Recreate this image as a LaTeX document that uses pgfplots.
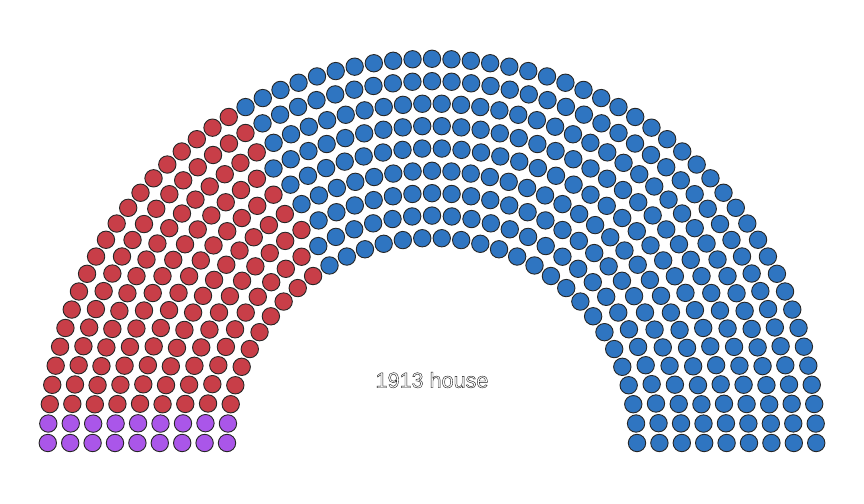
\documentclass[border=0pt]{standalone}
\usepackage{pgfplots}
\pgfplotsset{compat=1.18}
\usepackage{pgfplotstable}
\usepackage{fontspec}
\setmainfont{Liberation Sans}
\definecolor{progc}{RGB}{170,86,233}
\definecolor{repc}{RGB}{200,62,72}
\definecolor{demc}{RGB}{47,117,193}
% seats: k = position in its row, n = seats in that row, r = row radius
\pgfplotstableread[row sep=\\]{
k n r\\
0 34 205\\1 34 205\\0 37 227.4\\1 37 227.4\\0 41 249.8\\1 41 249.8\\0 45 272.2\\1 45 272.2\\0 48 294.6\\1 48 294.6\\0 52 317\\1 52 317\\0 56 339.4\\1 56 339.4\\0 59 361.8\\1 59 361.8\\0 63 384.2\\1 63 384.2\\
}\progtab
\pgfplotstableread[row sep=\\]{
k n r\\
2 34 205\\3 34 205\\4 34 205\\5 34 205\\6 34 205\\7 34 205\\8 34 205\\9 34 205\\10 34 205\\
2 37 227.4\\3 37 227.4\\4 37 227.4\\5 37 227.4\\6 37 227.4\\7 37 227.4\\8 37 227.4\\9 37 227.4\\10 37 227.4\\11 37 227.4\\
2 41 249.8\\3 41 249.8\\4 41 249.8\\5 41 249.8\\6 41 249.8\\7 41 249.8\\8 41 249.8\\9 41 249.8\\10 41 249.8\\11 41 249.8\\12 41 249.8\\13 41 249.8\\
2 45 272.2\\3 45 272.2\\4 45 272.2\\5 45 272.2\\6 45 272.2\\7 45 272.2\\8 45 272.2\\9 45 272.2\\10 45 272.2\\11 45 272.2\\12 45 272.2\\13 45 272.2\\14 45 272.2\\
2 48 294.6\\3 48 294.6\\4 48 294.6\\5 48 294.6\\6 48 294.6\\7 48 294.6\\8 48 294.6\\9 48 294.6\\10 48 294.6\\11 48 294.6\\12 48 294.6\\13 48 294.6\\14 48 294.6\\15 48 294.6\\
2 52 317\\3 52 317\\4 52 317\\5 52 317\\6 52 317\\7 52 317\\8 52 317\\9 52 317\\10 52 317\\11 52 317\\12 52 317\\13 52 317\\14 52 317\\15 52 317\\16 52 317\\
2 56 339.4\\3 56 339.4\\4 56 339.4\\5 56 339.4\\6 56 339.4\\7 56 339.4\\8 56 339.4\\9 56 339.4\\10 56 339.4\\11 56 339.4\\12 56 339.4\\13 56 339.4\\14 56 339.4\\15 56 339.4\\16 56 339.4\\17 56 339.4\\18 56 339.4\\
2 59 361.8\\3 59 361.8\\4 59 361.8\\5 59 361.8\\6 59 361.8\\7 59 361.8\\8 59 361.8\\9 59 361.8\\10 59 361.8\\11 59 361.8\\12 59 361.8\\13 59 361.8\\14 59 361.8\\15 59 361.8\\16 59 361.8\\17 59 361.8\\18 59 361.8\\19 59 361.8\\
2 63 384.2\\3 63 384.2\\4 63 384.2\\5 63 384.2\\6 63 384.2\\7 63 384.2\\8 63 384.2\\9 63 384.2\\10 63 384.2\\11 63 384.2\\12 63 384.2\\13 63 384.2\\14 63 384.2\\15 63 384.2\\16 63 384.2\\17 63 384.2\\18 63 384.2\\19 63 384.2\\20 63 384.2\\
}\reptab
\pgfplotstableread[row sep=\\]{
k n r\\
11 34 205\\12 34 205\\13 34 205\\14 34 205\\15 34 205\\16 34 205\\17 34 205\\18 34 205\\19 34 205\\20 34 205\\21 34 205\\22 34 205\\23 34 205\\24 34 205\\25 34 205\\26 34 205\\27 34 205\\28 34 205\\29 34 205\\30 34 205\\31 34 205\\32 34 205\\33 34 205\\
12 37 227.4\\13 37 227.4\\14 37 227.4\\15 37 227.4\\16 37 227.4\\17 37 227.4\\18 37 227.4\\19 37 227.4\\20 37 227.4\\21 37 227.4\\22 37 227.4\\23 37 227.4\\24 37 227.4\\25 37 227.4\\26 37 227.4\\27 37 227.4\\28 37 227.4\\29 37 227.4\\30 37 227.4\\31 37 227.4\\32 37 227.4\\33 37 227.4\\34 37 227.4\\35 37 227.4\\36 37 227.4\\
14 41 249.8\\15 41 249.8\\16 41 249.8\\17 41 249.8\\18 41 249.8\\19 41 249.8\\20 41 249.8\\21 41 249.8\\22 41 249.8\\23 41 249.8\\24 41 249.8\\25 41 249.8\\26 41 249.8\\27 41 249.8\\28 41 249.8\\29 41 249.8\\30 41 249.8\\31 41 249.8\\32 41 249.8\\33 41 249.8\\34 41 249.8\\35 41 249.8\\36 41 249.8\\37 41 249.8\\38 41 249.8\\39 41 249.8\\40 41 249.8\\
15 45 272.2\\16 45 272.2\\17 45 272.2\\18 45 272.2\\19 45 272.2\\20 45 272.2\\21 45 272.2\\22 45 272.2\\23 45 272.2\\24 45 272.2\\25 45 272.2\\26 45 272.2\\27 45 272.2\\28 45 272.2\\29 45 272.2\\30 45 272.2\\31 45 272.2\\32 45 272.2\\33 45 272.2\\34 45 272.2\\35 45 272.2\\36 45 272.2\\37 45 272.2\\38 45 272.2\\39 45 272.2\\40 45 272.2\\41 45 272.2\\42 45 272.2\\43 45 272.2\\44 45 272.2\\
16 48 294.6\\17 48 294.6\\18 48 294.6\\19 48 294.6\\20 48 294.6\\21 48 294.6\\22 48 294.6\\23 48 294.6\\24 48 294.6\\25 48 294.6\\26 48 294.6\\27 48 294.6\\28 48 294.6\\29 48 294.6\\30 48 294.6\\31 48 294.6\\32 48 294.6\\33 48 294.6\\34 48 294.6\\35 48 294.6\\36 48 294.6\\37 48 294.6\\38 48 294.6\\39 48 294.6\\40 48 294.6\\41 48 294.6\\42 48 294.6\\43 48 294.6\\44 48 294.6\\45 48 294.6\\46 48 294.6\\47 48 294.6\\
17 52 317\\18 52 317\\19 52 317\\20 52 317\\21 52 317\\22 52 317\\23 52 317\\24 52 317\\25 52 317\\26 52 317\\27 52 317\\28 52 317\\29 52 317\\30 52 317\\31 52 317\\32 52 317\\33 52 317\\34 52 317\\35 52 317\\36 52 317\\37 52 317\\38 52 317\\39 52 317\\40 52 317\\41 52 317\\42 52 317\\43 52 317\\44 52 317\\45 52 317\\46 52 317\\47 52 317\\48 52 317\\49 52 317\\50 52 317\\51 52 317\\
19 56 339.4\\20 56 339.4\\21 56 339.4\\22 56 339.4\\23 56 339.4\\24 56 339.4\\25 56 339.4\\26 56 339.4\\27 56 339.4\\28 56 339.4\\29 56 339.4\\30 56 339.4\\31 56 339.4\\32 56 339.4\\33 56 339.4\\34 56 339.4\\35 56 339.4\\36 56 339.4\\37 56 339.4\\38 56 339.4\\39 56 339.4\\40 56 339.4\\41 56 339.4\\42 56 339.4\\43 56 339.4\\44 56 339.4\\45 56 339.4\\46 56 339.4\\47 56 339.4\\48 56 339.4\\49 56 339.4\\50 56 339.4\\51 56 339.4\\52 56 339.4\\53 56 339.4\\54 56 339.4\\55 56 339.4\\
20 59 361.8\\21 59 361.8\\22 59 361.8\\23 59 361.8\\24 59 361.8\\25 59 361.8\\26 59 361.8\\27 59 361.8\\28 59 361.8\\29 59 361.8\\30 59 361.8\\31 59 361.8\\32 59 361.8\\33 59 361.8\\34 59 361.8\\35 59 361.8\\36 59 361.8\\37 59 361.8\\38 59 361.8\\39 59 361.8\\40 59 361.8\\41 59 361.8\\42 59 361.8\\43 59 361.8\\44 59 361.8\\45 59 361.8\\46 59 361.8\\47 59 361.8\\48 59 361.8\\49 59 361.8\\50 59 361.8\\51 59 361.8\\52 59 361.8\\53 59 361.8\\54 59 361.8\\55 59 361.8\\56 59 361.8\\57 59 361.8\\58 59 361.8\\
21 63 384.2\\22 63 384.2\\23 63 384.2\\24 63 384.2\\25 63 384.2\\26 63 384.2\\27 63 384.2\\28 63 384.2\\29 63 384.2\\30 63 384.2\\31 63 384.2\\32 63 384.2\\33 63 384.2\\34 63 384.2\\35 63 384.2\\36 63 384.2\\37 63 384.2\\38 63 384.2\\39 63 384.2\\40 63 384.2\\41 63 384.2\\42 63 384.2\\43 63 384.2\\44 63 384.2\\45 63 384.2\\46 63 384.2\\47 63 384.2\\48 63 384.2\\49 63 384.2\\50 63 384.2\\51 63 384.2\\52 63 384.2\\53 63 384.2\\54 63 384.2\\55 63 384.2\\56 63 384.2\\57 63 384.2\\58 63 384.2\\59 63 384.2\\60 63 384.2\\61 63 384.2\\62 63 384.2\\
}\demtab
\begin{document}
\begin{tikzpicture}
\begin{axis}[
  width=864bp, height=504bp, scale only axis,
  xmin=-432, xmax=432, ymin=-61, ymax=443,
  hide axis, clip=false,
  seat/.style={only marks, mark=*, mark size=8.7bp,
    mark options={draw=black!85, line width=0.9bp, fill=#1}},
]
\path (rel axis cs:0,0) rectangle (rel axis cs:1,1);
\addplot[seat=progc] table[
  x expr={-\thisrow{r}*cos(180*\thisrow{k}/(\thisrow{n}-1))},
  y expr={\thisrow{r}*sin(180*\thisrow{k}/(\thisrow{n}-1))}] {\progtab};
\addplot[seat=repc] table[
  x expr={-\thisrow{r}*cos(180*\thisrow{k}/(\thisrow{n}-1))},
  y expr={\thisrow{r}*sin(180*\thisrow{k}/(\thisrow{n}-1))}] {\reptab};
\addplot[seat=demc] table[
  x expr={-\thisrow{r}*cos(180*\thisrow{k}/(\thisrow{n}-1))},
  y expr={\thisrow{r}*sin(180*\thisrow{k}/(\thisrow{n}-1))}] {\demtab};
\node[text=black!90, font=\fontsize{21.6bp}{26bp}\selectfont] at (axis cs:0,63)
  {\special{pdf:literal direct 0.4 w 1 Tr}1913 house\special{pdf:literal direct 0 Tr}};
\end{axis}
\end{tikzpicture}
\end{document}
